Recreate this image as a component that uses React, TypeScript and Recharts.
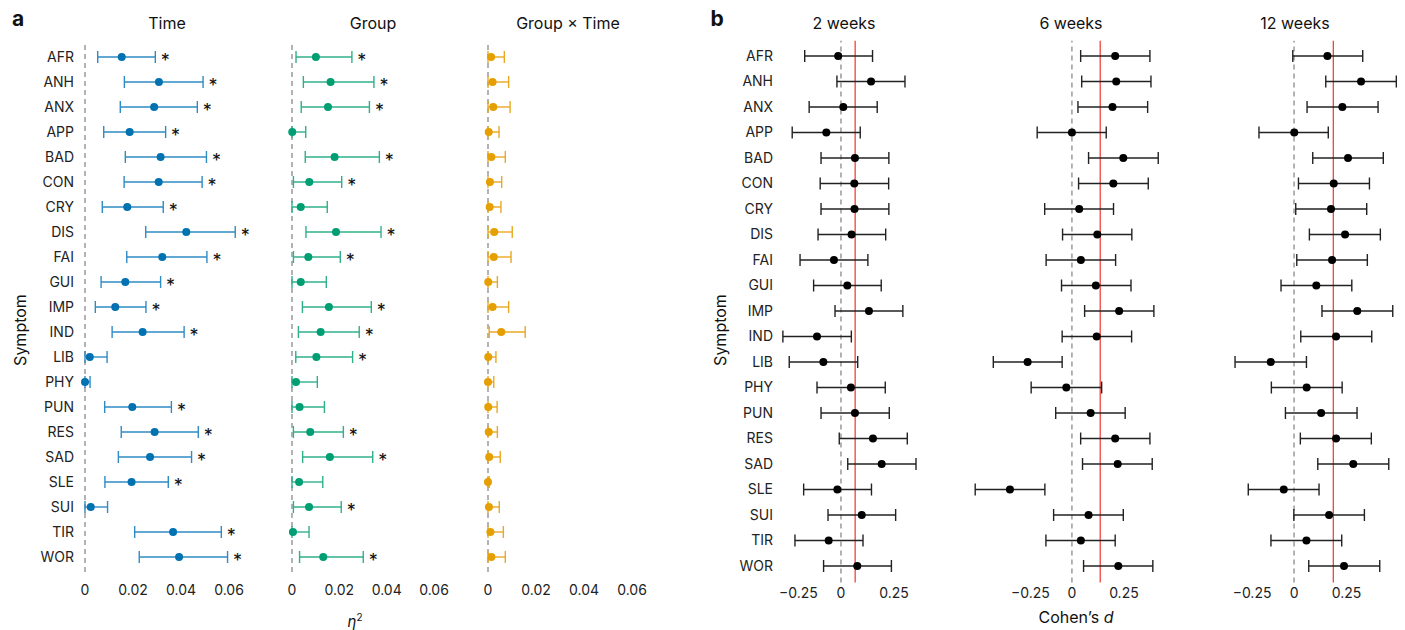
import React from "react";
import { ErrorBar, ReferenceLine, Scatter, ScatterChart, XAxis, YAxis } from "recharts";

const SYMPTOMS = [
  "AFR", "ANH", "ANX", "APP", "BAD", "CON", "CRY", "DIS", "FAI", "GUI", "IMP",
  "IND", "LIB", "PHY", "PUN", "RES", "SAD", "SLE", "SUI", "TIR", "WOR",
];

// panel a: eta squared, estimate + 95% CI
const TIME_EST = [0.0153, 0.0308, 0.0288, 0.0186, 0.0315, 0.0307, 0.0176, 0.0422, 0.0322, 0.0168, 0.0126, 0.024, 0.002, 0.0, 0.0197, 0.029, 0.0271, 0.0194, 0.0024, 0.0367, 0.0392];
const TIME_LO = [0.0053, 0.0164, 0.0147, 0.0078, 0.0168, 0.0163, 0.0072, 0.0253, 0.0174, 0.0067, 0.0043, 0.0113, 0, 0, 0.0082, 0.0151, 0.0139, 0.0083, 0, 0.0207, 0.0226];
const TIME_HI = [0.0293, 0.0492, 0.0468, 0.0336, 0.0506, 0.0488, 0.0326, 0.0626, 0.0508, 0.0315, 0.0254, 0.0413, 0.0092, 0.0021, 0.036, 0.0472, 0.0444, 0.0347, 0.0094, 0.0568, 0.0594];
const TIME_SIG = ["AFR", "ANH", "ANX", "APP", "BAD", "CON", "CRY", "DIS", "FAI", "GUI", "IMP", "IND", "PUN", "RES", "SAD", "SLE", "TIR", "WOR"];

const GROUP_EST = [0.0101, 0.0163, 0.0152, 0.0001, 0.018, 0.0073, 0.0037, 0.0186, 0.0069, 0.0037, 0.0156, 0.0121, 0.0103, 0.0017, 0.0032, 0.0077, 0.016, 0.003, 0.0072, 0.0004, 0.0132];
const GROUP_LO = [0.0017, 0.0048, 0.0039, 0, 0.0056, 0.0006, 0, 0.0059, 0.0006, 0, 0.0044, 0.0027, 0.0016, 0, 0, 0.0006, 0.0045, 0, 0.0006, 0, 0.0032];
const GROUP_HI = [0.0253, 0.0346, 0.0327, 0.0058, 0.0369, 0.021, 0.0149, 0.0376, 0.0204, 0.0145, 0.0335, 0.0284, 0.0256, 0.0107, 0.0137, 0.0217, 0.0341, 0.013, 0.0208, 0.0072, 0.0301];
const GROUP_SIG = ["AFR", "ANH", "ANX", "BAD", "CON", "DIS", "FAI", "IMP", "IND", "LIB", "RES", "SAD", "SUI", "WOR"];

const GXT_EST = [0.0013, 0.0019, 0.0022, 0.0003, 0.0014, 0.0008, 0.0007, 0.0026, 0.0024, 0.0001, 0.0019, 0.0055, 0.0001, 0, 0.0001, 0.0003, 0.0005, 0, 0.0004, 0.001, 0.0014];
const GXT_LO = [0, 0, 0, 0, 0, 0, 0, 0, 0, 0, 0, 0.0005, 0, 0, 0, 0, 0, 0, 0, 0, 0];
const GXT_HI = [0.0068, 0.0086, 0.0092, 0.0046, 0.0072, 0.0057, 0.0054, 0.0101, 0.0096, 0.0039, 0.0086, 0.0155, 0.0033, 0.0024, 0.0038, 0.0039, 0.0051, 0.0005, 0.0047, 0.0064, 0.0072];
const GXT_SIG: string[] = [];

const ETA_TICKS = [0, 0.02, 0.04, 0.06];

// panel b: Cohen's d per follow-up, estimate + 95% CI, red line = mean
const W2_EST = [-0.013, 0.142, 0.011, -0.069, 0.066, 0.063, 0.064, 0.05, -0.033, 0.03, 0.132, -0.113, -0.083, 0.047, 0.066, 0.151, 0.192, -0.017, 0.098, -0.058, 0.077];
const W2_LO = [-0.171, -0.019, -0.15, -0.23, -0.094, -0.098, -0.094, -0.108, -0.193, -0.129, -0.028, -0.274, -0.244, -0.113, -0.094, -0.008, 0.032, -0.176, -0.061, -0.217, -0.082];
const W2_HI = [0.149, 0.302, 0.171, 0.091, 0.226, 0.225, 0.226, 0.211, 0.127, 0.19, 0.292, 0.049, 0.079, 0.209, 0.228, 0.313, 0.354, 0.144, 0.258, 0.104, 0.238];
const W2_MEAN = 0.067;

const W6_EST = [0.208, 0.213, 0.195, 0, 0.247, 0.199, 0.035, 0.122, 0.043, 0.115, 0.227, 0.119, -0.213, -0.027, 0.09, 0.208, 0.22, -0.298, 0.08, 0.043, 0.223];
const W6_LO = [0.042, 0.047, 0.029, -0.167, 0.08, 0.032, -0.131, -0.045, -0.124, -0.05, 0.061, -0.047, -0.378, -0.196, -0.078, 0.042, 0.051, -0.465, -0.088, -0.125, 0.056];
const W6_HI = [0.375, 0.38, 0.364, 0.165, 0.415, 0.367, 0.2, 0.288, 0.21, 0.284, 0.394, 0.287, -0.047, 0.143, 0.256, 0.375, 0.386, -0.13, 0.247, 0.208, 0.389];
const W6_MEAN = 0.136;

const W12_EST = [0.159, 0.319, 0.23, 0.001, 0.257, 0.189, 0.176, 0.243, 0.181, 0.106, 0.301, 0.2, -0.111, 0.06, 0.129, 0.2, 0.282, -0.049, 0.167, 0.059, 0.238];
const W12_LO = [-0.006, 0.151, 0.062, -0.167, 0.089, 0.021, 0.008, 0.073, 0.013, -0.062, 0.133, 0.032, -0.281, -0.108, -0.041, 0.03, 0.113, -0.218, -0.001, -0.11, 0.07];
const W12_HI = [0.327, 0.487, 0.4, 0.163, 0.425, 0.359, 0.346, 0.411, 0.349, 0.275, 0.47, 0.37, 0.059, 0.229, 0.3, 0.368, 0.451, 0.119, 0.335, 0.227, 0.408];
const W12_MEAN = 0.187;

const D_TICKS = [-0.25, 0, 0.25];

const FONT = "Inter, 'Liberation Sans', Arial, sans-serif";
const TEXT = "#222";
const ROW_TICKS = SYMPTOMS.map((_, i) => i);

function buildRows(est: number[], lo: number[], hi: number[]) {
  return est.map((v, i) => ({ idx: i, v, err: [v - lo[i], hi[i] - v] }));
}

function buildStars(hi: number[], sig: string[]) {
  return SYMPTOMS.map((s, i) => ({ idx: i, v: hi[i], s })).filter((d) => sig.includes(d.s));
}

function fmtTick(v: number) {
  if (v === 0) return "0";
  return v < 0 ? "\u2212" + String(-v) : String(v);
}

type ForestProps = {
  left: number;
  width: number;
  yWidth: number; // 0 = no symptom labels
  domain: [number, number];
  ticks: number[];
  marginTop: number;
  marginBottom: number;
  marginRight: number;
  yDomain: [number, number];
  tickMargin: number;
  negShift: number;
  color: string;
  barColor: string;
  rows: { idx: number; v: number; err: number[] }[];
  stars?: { idx: number; v: number }[];
  mean?: number;
};

function Forest(p: ForestProps) {
  return (
    <div style={{ position: "absolute", left: p.left, top: 0 }}>
      <ScatterChart
        width={p.width}
        height={630}
        margin={{ top: p.marginTop, right: p.marginRight, bottom: p.marginBottom, left: 0 }}
      >
        <XAxis
          type="number"
          dataKey="v"
          domain={p.domain}
          ticks={p.ticks}
          interval={0}
          allowDataOverflow
          axisLine={false}
          tickLine={false}
          tickSize={0}
          tickMargin={p.tickMargin}
          height={30}
          tick={(t: any) => (
            <text
              x={t.x + (t.payload.value < 0 ? p.negShift : 0)}
              y={t.y}
              dy="0.71em"
              textAnchor="middle"
              fontSize={14}
              fill={TEXT}
              fontFamily={FONT}
            >
              {fmtTick(t.payload.value)}
            </text>
          )}
        />
        <YAxis
          type="number"
          dataKey="idx"
          domain={p.yDomain}
          reversed
          allowDataOverflow
          ticks={ROW_TICKS}
          interval={0}
          hide={p.yWidth === 0}
          width={p.yWidth}
          axisLine={false}
          tickLine={false}
          tickSize={0}
          tickMargin={5}
          tickFormatter={(i: number) => SYMPTOMS[i]}
          tick={{ fontSize: 14, fill: TEXT, fontFamily: FONT }}
        />
        <ReferenceLine x={0} stroke="#9a9a9a" strokeWidth={1.5} strokeDasharray="5 4" />
        {p.mean !== undefined && (
          <ReferenceLine x={p.mean} stroke="#f0443c" strokeWidth={1.3} />
        )}
        <Scatter
          data={p.rows}
          isAnimationActive={false}
          fill={p.color}
          shape={(s: any) => <circle cx={s.cx} cy={s.cy} r={4} fill={p.color} />}
        >
          <ErrorBar dataKey="err" direction="x" width={6} stroke={p.barColor} strokeWidth={1.4} />
        </Scatter>
        {p.stars && p.stars.length > 0 && (
          <Scatter
            data={p.stars}
            isAnimationActive={false}
            shape={(s: any) => (
              <text x={s.cx + 10} y={s.cy + 10} textAnchor="middle" fontSize={18} fill="#111" fontFamily={FONT}>
                *
              </text>
            )}
          />
        )}
      </ScatterChart>
    </div>
  );
}

function Label({ x, y, children, size = 16, weight = 400, rotate = 0 }: any) {
  return (
    <div
      style={{
        position: "absolute",
        left: x,
        top: y,
        transform: `translate(-50%, -50%) rotate(${rotate}deg)`,
        fontFamily: FONT,
        fontSize: size,
        fontWeight: weight,
        color: "#111",
        whiteSpace: "nowrap",
        lineHeight: 1,
      }}
    >
      {children}
    </div>
  );
}

export default function App() {
  const etaA = { marginTop: 42, marginBottom: 28, yDomain: [-0.6, 20.6] as [number, number], tickMargin: 13, negShift: 0, ticks: ETA_TICKS };
  const dB = { marginTop: 40.7, marginBottom: 17.4, yDomain: [-0.6, 20.65] as [number, number], tickMargin: 5, negShift: 10.5, ticks: D_TICKS };

  return (
    <div style={{ position: "absolute", left: 0, top: 0, width: 1405, height: 630, background: "#fff", overflow: "hidden" }}>
      <Forest
        {...etaA}
        left={0}
        width={260}
        yWidth={79}
        marginRight={5.8}
        domain={[-0.0025, 0.0705]}
        color="#0072B2"
        barColor="#2f8bc4"
        rows={buildRows(TIME_EST, TIME_LO, TIME_HI)}
        stars={buildStars(TIME_HI, TIME_SIG)}
      />
      <Forest
        {...etaA}
        left={286}
        width={180}
        yWidth={0}
        marginRight={7.1}
        domain={[-0.00253, 0.0705]}
        color="#009E73"
        barColor="#2fb08a"
        rows={buildRows(GROUP_EST, GROUP_LO, GROUP_HI)}
        stars={buildStars(GROUP_HI, GROUP_SIG)}
      />
      <Forest
        {...etaA}
        left={482}
        width={182}
        yWidth={0}
        marginRight={6.8}
        domain={[-0.0025, 0.0705]}
        color="#E69F00"
        barColor="#eaa820"
        rows={buildRows(GXT_EST, GXT_LO, GXT_HI)}
        stars={buildStars(GXT_HI, GXT_SIG)}
      />

      <Forest
        {...dB}
        left={700}
        width={230}
        yWidth={78}
        marginRight={5.1}
        domain={[-0.297, 0.396]}
        color="#000"
        barColor="#222"
        rows={buildRows(W2_EST, W2_LO, W2_HI)}
        mean={W2_MEAN}
      />
      <Forest
        {...dB}
        left={970}
        width={200}
        yWidth={0}
        marginRight={5.1}
        domain={[-0.49, 0.447]}
        color="#000"
        barColor="#222"
        rows={buildRows(W6_EST, W6_LO, W6_HI)}
        mean={W6_MEAN}
      />
      <Forest
        {...dB}
        left={1230}
        width={175}
        yWidth={0}
        marginRight={4.9}
        domain={[-0.305, 0.505]}
        color="#000"
        barColor="#222"
        rows={buildRows(W12_EST, W12_LO, W12_HI)}
        mean={W12_MEAN}
      />

      <Label x={18} y={18} size={21} weight={700}>a</Label>
      <Label x={717} y={18} size={21} weight={700}>b</Label>

      <Label x={167} y={23}>Time</Label>
      <Label x={373} y={23}>Group</Label>
      <Label x={568} y={23}>Group × Time</Label>
      <Label x={844} y={23}>2 weeks</Label>
      <Label x={1071} y={23}>6 weeks</Label>
      <Label x={1295} y={23}>12 weeks</Label>

      <Label x={20} y={330} rotate={-90}>Symptom</Label>
      <Label x={720} y={330} rotate={-90}>Symptom</Label>

      <Label x={355} y={620} size={15}>
        <i>η</i>
        <sup style={{ fontSize: 10 }}>2</sup>
      </Label>
      <Label x={1076} y={617} size={16}>
        Cohen’s <i>d</i>
      </Label>
    </div>
  );
}
